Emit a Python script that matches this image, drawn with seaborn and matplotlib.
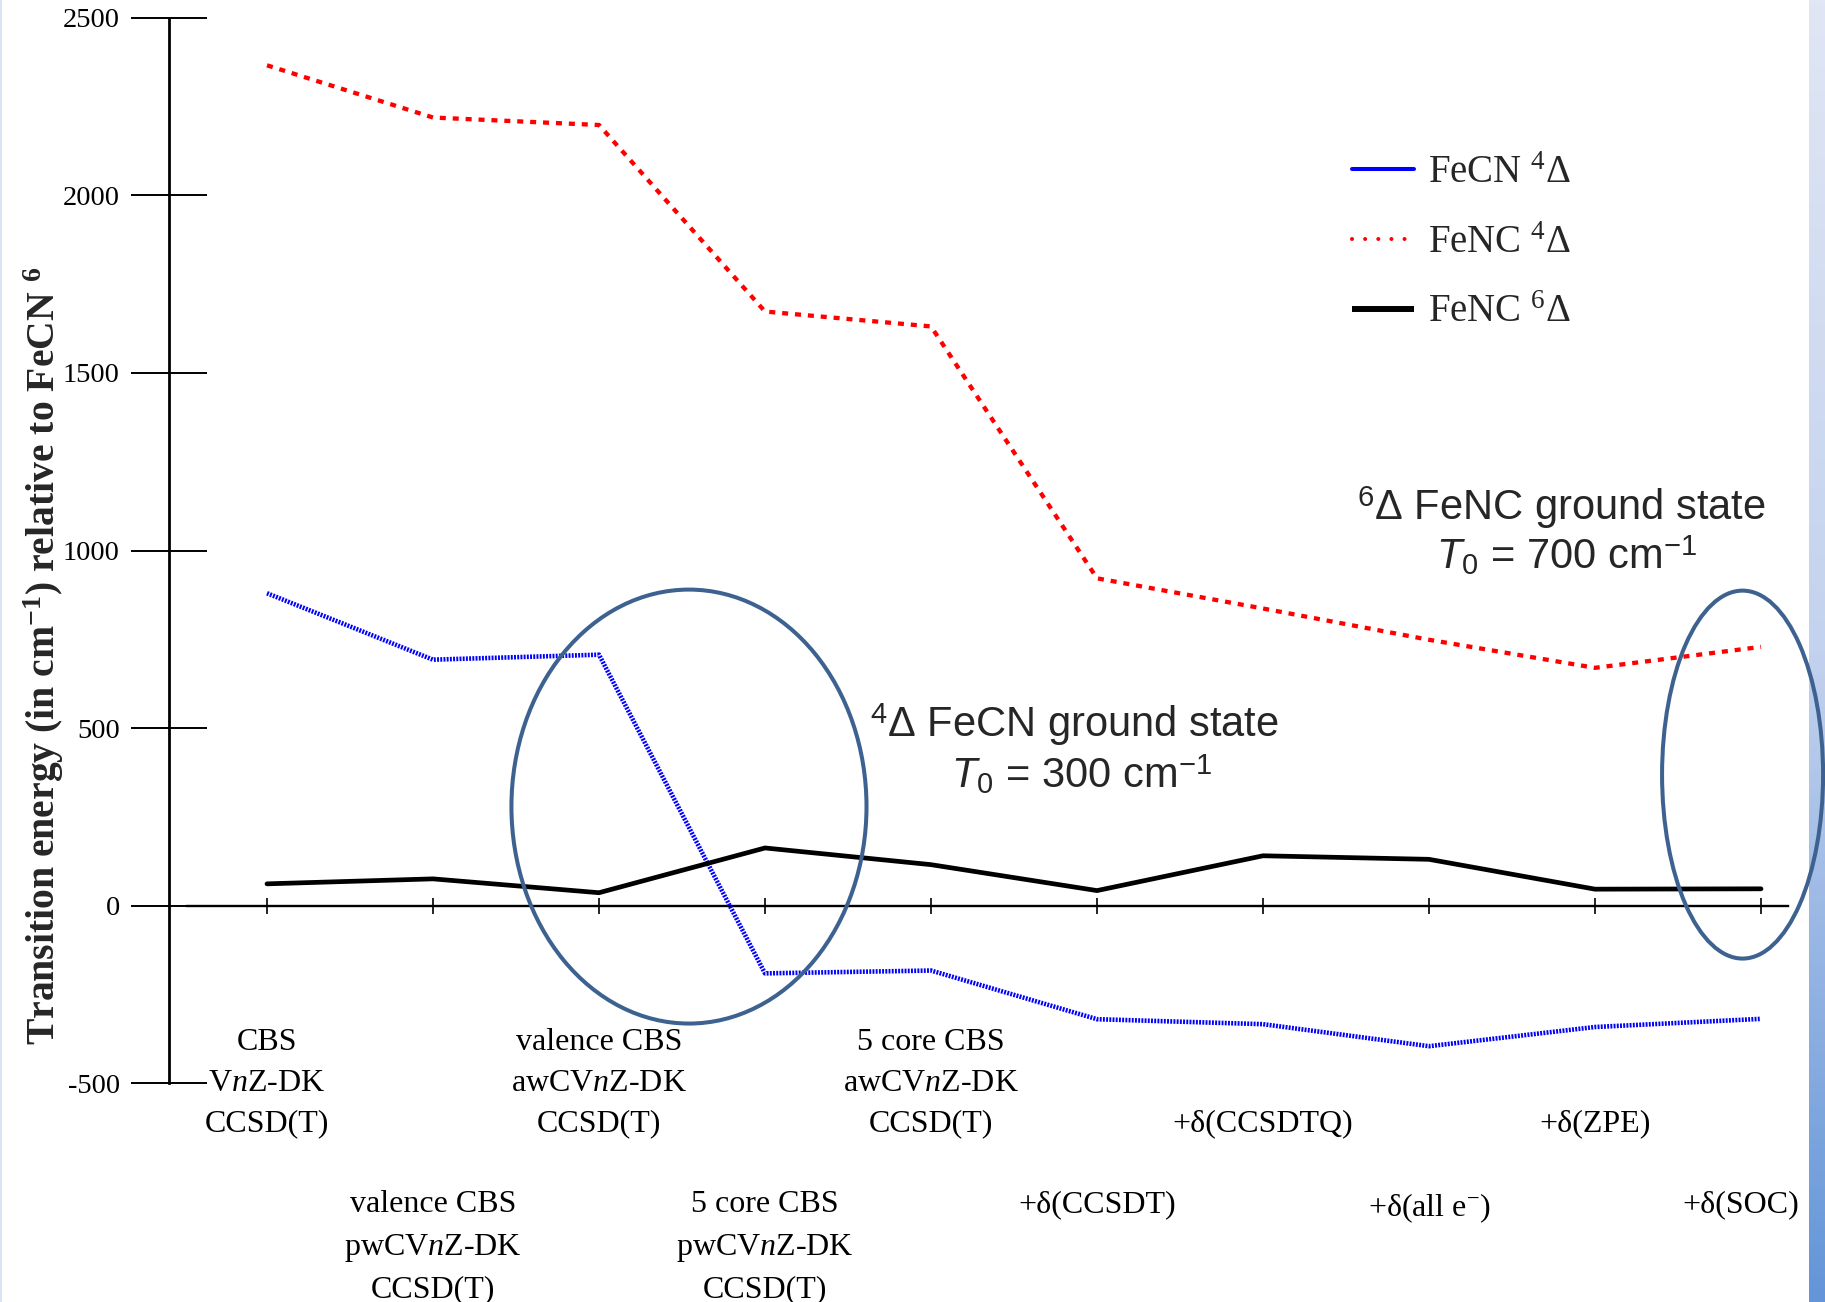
import numpy as np
import pandas as pd
import matplotlib
matplotlib.use("Agg")
import matplotlib.pyplot as plt
import matplotlib.transforms as mtransforms
from matplotlib.patches import Ellipse
from matplotlib.lines import Line2D
from matplotlib.colors import LinearSegmentedColormap
import seaborn as sns

# ---- data -------------------------------------------------------------
methods = [
    "CBS\nV$n$Z-DK\nCCSD(T)",
    "valence CBS\npwCV$n$Z-DK\nCCSD(T)",
    "valence CBS\nawCV$n$Z-DK\nCCSD(T)",
    "5 core CBS\npwCV$n$Z-DK\nCCSD(T)",
    "5 core CBS\nawCV$n$Z-DK\nCCSD(T)",
    "+δ(CCSDT)",
    "+δ(CCSDTQ)",
    "+δ(all e$^{-}$)",
    "+δ(ZPE)",
    "+δ(SOC)",
]
fecn_quartet = [880, 693, 707, -190, -182, -319, -333, -395, -341, -318]
fenc_quartet = [2366, 2219, 2198, 1673, 1631, 922, 837, 749, 670, 729]
fenc_sextet = [62, 76, 37, 163, 116, 43, 141, 131, 47, 48]
series_names = ["FeCN $^{4}$Δ", "FeNC $^{4}$Δ", "FeNC $^{6}$Δ"]
y_ticks = [-500, 0, 500, 1000, 1500, 2000, 2500]

# ---- style ------------------------------------------------------------
sns.set_style("white")
plt.rcParams.update({
    "font.family": ["Liberation Serif", "DejaVu Serif"],
    "mathtext.fontset": "custom",
    "mathtext.rm": "Liberation Serif",
    "mathtext.it": "Liberation Serif:italic",
    "mathtext.bf": "Liberation Serif:bold",
    "mathtext.sf": "Liberation Sans",
    "mathtext.cal": "Liberation Sans:italic",
    "axes.unicode_minus": False,
    "axes.edgecolor": "black",
    "xtick.color": "black",
    "ytick.color": "black",
})

W, H, DPI = 1825, 1302, 100
fig = plt.figure(figsize=(W / DPI, H / DPI), dpi=DPI, facecolor="white")

# layout in pixels: first category x, category spacing, plot top/bottom
X0_PX, DX_PX = 267, 166
YTOP_PX, YBOT_PX = 17.7, 1083.5

ax = fig.add_axes([0, 1 - YBOT_PX / H, 1, (YBOT_PX - YTOP_PX) / H])
ax.patch.set_visible(False)
ax.set_xlim(-X0_PX / DX_PX, (W - X0_PX) / DX_PX)
ax.set_ylim(-500, 2500)

# slide edge decoration: gradient strip on the right, thin strip on the left
edge_cmap = LinearSegmentedColormap.from_list(
    "edge", ["#E0E6F4", "#C3D2EE", "#6395D8"])
band = fig.add_axes([1809 / W, 0, (W - 1809) / W, 1], zorder=-1)
band.imshow(np.linspace(0, 1, 256)[:, None], aspect="auto", cmap=edge_cmap)
band.axis("off")
lstrip = fig.add_axes([0, 0, 2 / W, 1], zorder=-1)
lstrip.set_facecolor("#DCE4F2")
lstrip.set_xticks([])
lstrip.set_yticks([])
for s in lstrip.spines.values():
    s.set_visible(False)

# ---- lines ------------------------------------------------------------
df = pd.DataFrame({
    "pos": np.arange(len(methods)),
    series_names[0]: fecn_quartet,
    series_names[1]: fenc_quartet,
    series_names[2]: fenc_sextet,
})
sns.lineplot(data=df, x="pos", y=series_names[1], ax=ax, color="#FF0000",
             linewidth=3.1, linestyle=(0, (1.4, 1.6)), legend=False, zorder=3)
sns.lineplot(data=df, x="pos", y=series_names[0], ax=ax, color="#0000FF",
             linewidth=3.3, linestyle=(0, (0.42, 0.28)), legend=False, zorder=3)
sns.lineplot(data=df, x="pos", y=series_names[2], ax=ax, color="black",
             linewidth=3.4, legend=False, zorder=4)

# highlight rings around the ground-state crossings
rings = [(2.542, 279.5, 2.139, 1221.5), (8.889, 369.5, 0.970, 1035.7)]
for cx, cy, w, h in rings:
    ax.add_patch(Ellipse((cx, cy), w, h, fill=False, ec="#3E6290", lw=2.9,
                         clip_on=False, zorder=6))

# ---- axes ---------------------------------------------------------------
ax.spines["top"].set_visible(False)
ax.spines["right"].set_visible(False)
ax.spines["left"].set_position(("data", (169.3 - X0_PX) / DX_PX))
ax.spines["left"].set_linewidth(2.0)
ax.spines["bottom"].set_position(("data", 0))
ax.spines["bottom"].set_bounds((187 - X0_PX) / DX_PX, (1788 - X0_PX) / DX_PX)
ax.spines["bottom"].set_linewidth(1.7)

ax.set_yticks(y_ticks)
ax.tick_params(axis="y", left=True, direction="inout", length=55.4,
               width=1.4, pad=7.9, labelsize=20.5)

# alternate category labels between an upper and a lower row
tick_text = []
for i, m in enumerate(methods):
    n_lines = m.count("\n") + 1
    if i % 2 == 0:
        tick_text.append("\n" * (3 - n_lines) + m)
    else:
        tick_text.append("\n" * 4 + m)
ax.set_xticks(range(len(methods)), tick_text)
ax.tick_params(axis="x", bottom=True, direction="inout", length=12.2,
               width=1.2, pad=82.0, labelsize=23)
for lab in ax.get_xticklabels():
    lab.set_linespacing(1.525)
last = ax.get_xticklabels()[-1]
last.set_transform(last.get_transform()
                   + mtransforms.ScaledTranslation(-0.2, 0, fig.dpi_scale_trans))
ax.set_xlabel("")

ax.set_ylabel("Transition energy (in cm$^{\\mathbf{-1}}$) relative to FeCN $^{\\mathbf{6}}$",
              fontsize=28.5, fontweight="bold")
ax.yaxis.set_label_coords(66 / W, (YBOT_PX - 656) / (YBOT_PX - YTOP_PX))

# ---- annotations --------------------------------------------------------
ann_kw = dict(family="Liberation Sans", fontsize=30, ha="center",
              va="baseline", zorder=7)
ax.text(4.861, 475.7, "$^{\\mathsf{4}}$Δ FeCN ground state", **ann_kw)
ax.text(4.904, 332.0, "$\\mathcal{T}_{\\mathsf{0}}$ = 300 cm$^{\\mathsf{-1}}$", **ann_kw)
ax.text(7.795, 1087.0, "$^{\\mathsf{6}}$Δ FeNC ground state", **ann_kw)
ax.text(7.829, 946.5, "$\\mathcal{T}_{\\mathsf{0}}$ = 700 cm$^{\\mathsf{-1}}$", **ann_kw)

# ---- legend -------------------------------------------------------------
handles = [
    Line2D([], [], color="#0000FF", lw=2.9, solid_capstyle="round"),
    Line2D([], [], color="#FF0000", lw=2.9, linestyle=(0, (0.01, 3.25)),
           dash_capstyle="round"),
    Line2D([], [], color="black", lw=4.3, solid_capstyle="butt"),
]
ax.legend(handles, series_names, loc="upper left",
          bbox_to_anchor=(1352 / W, 1 - 155 / H), bbox_transform=fig.transFigure,
          frameon=False, fontsize=28, handlelength=1.6, handletextpad=0.35,
          labelspacing=0.84, borderpad=0, borderaxespad=0)

fig.savefig("out.png", dpi=DPI, facecolor="white")
